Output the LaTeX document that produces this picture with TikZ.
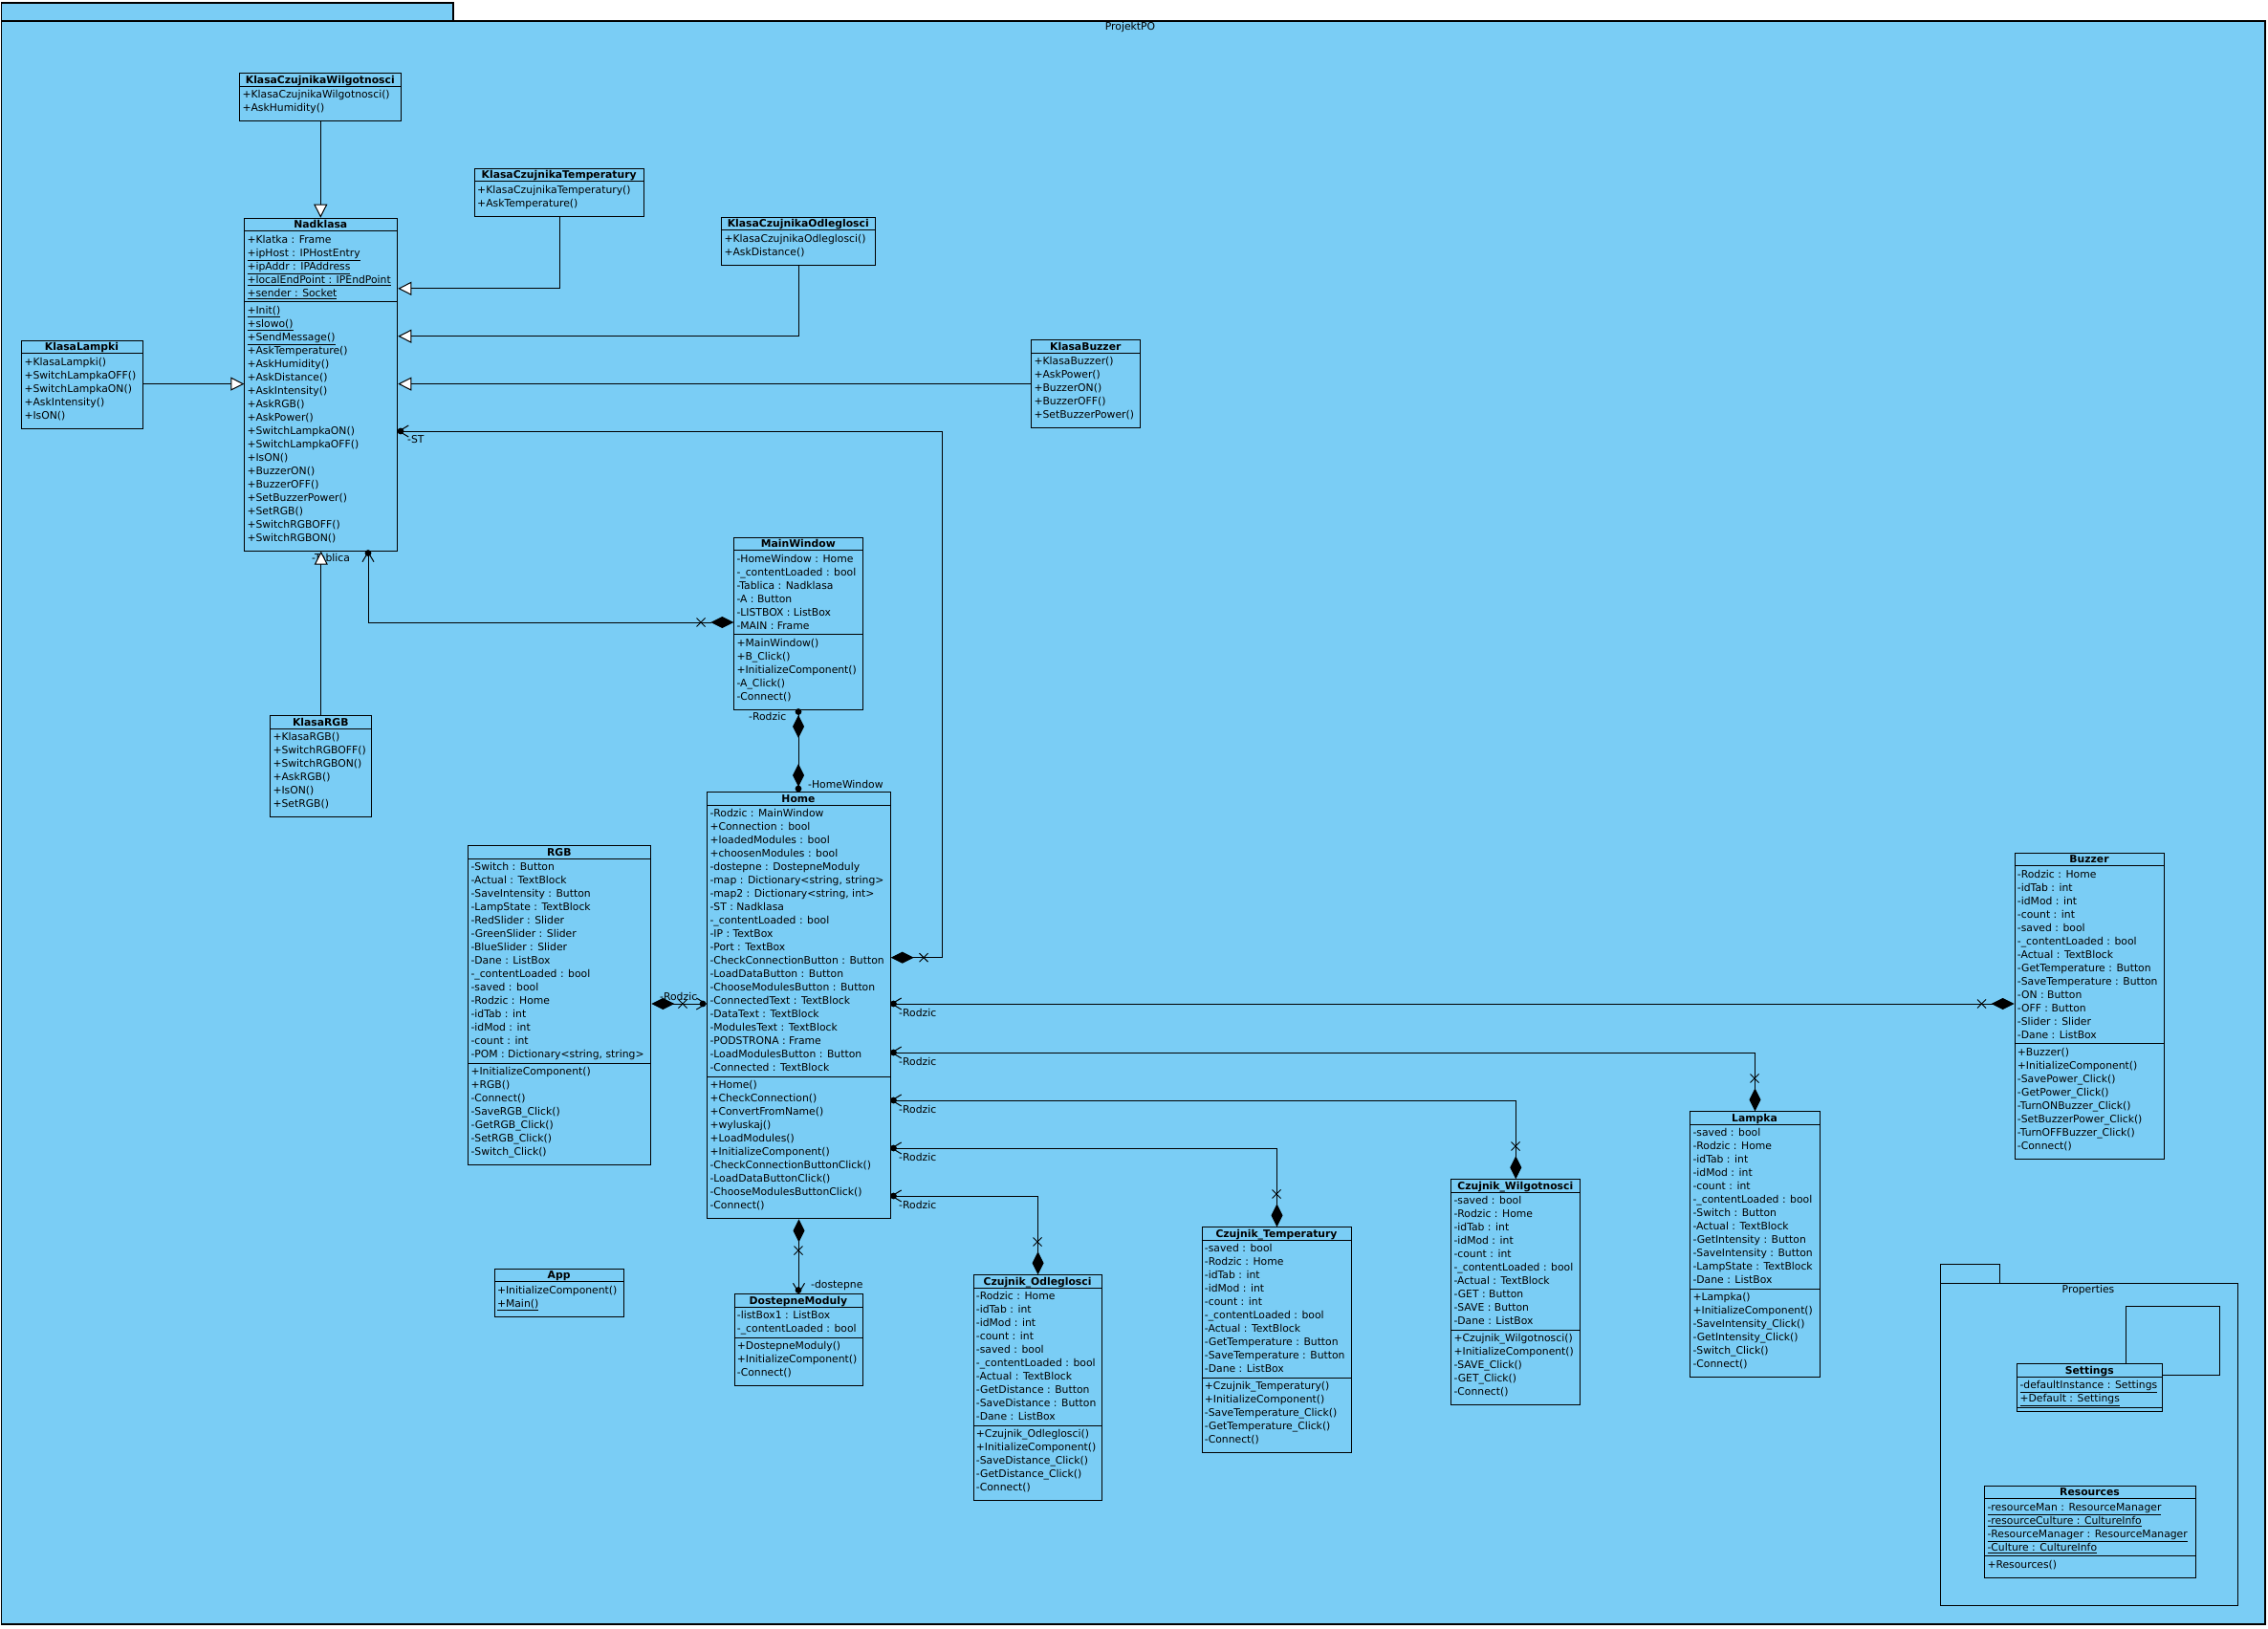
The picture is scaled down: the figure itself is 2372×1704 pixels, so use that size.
\documentclass[tikz,border=0pt]{standalone}
\usepackage{fontspec}
\setmainfont{DejaVu Sans}
\usetikzlibrary{arrows.meta}
\definecolor{pkgblue}{RGB}{122,205,245}
\newcommand\rowfont{\fontsize{10.8}{14}\selectfont}
\newcommand\ttlfont{\fontsize{10.8}{14}\selectfont\bfseries}
\tikzset{
  umlline/.style={line width=1pt, draw=black},
  classbox/.style={draw=black, line width=1pt, inner sep=0pt, rectangle},
  rowtext/.style={anchor=north west, inner sep=0pt, align=left, font=\rowfont},
  titletext/.style={anchor=base, inner sep=0pt, font=\ttlfont},
  lbl/.style={inner sep=0pt, font=\rowfont, anchor=west},
  gen/.style={-{Triangle[length=14pt,width=14pt,fill=white]}},
  compnav/.style={{Diamond[length=24pt,width=12pt]}-{Straight Barb[length=10pt,width=12pt]}},
  navcomp/.style={{Straight Barb[length=10pt,width=12pt]}-{Diamond[length=24pt,width=12pt]}},
}
% name, left, top, width, title, nAttr, nOps, attrs, ops
\newcommand\umlclass[9]{%
  \pgfmathsetmacro\ya{#3+14}%
  \pgfmathsetmacro\yb{\ya+ifthenelse(#6>0,#6*14+4,0)}%
  \pgfmathsetmacro\yc{\yb+ifthenelse(#7>0,#7*14+8,4)}%
  \pgfmathsetmacro\hh{\yc-#3}%
  \node[classbox, minimum width=#4pt, minimum height=\hh pt, anchor=north west] (#1) at (#2,#3) {};
  \draw[umlline] (#2,\ya) -- ++(#4,0);
  \draw[umlline] (#2,\yb) -- ++(#4,0);
  \node[titletext] (#1-t) at (#2+#4/2,#3+11) {#5};
  \node[rowtext] (#1-a) at (#2+3,\ya+2.5) {\strut#8};
  \node[rowtext] (#1-o) at (#2+3,\yb+2.5) {\strut#9};
}
\newcommand\xmark[2]{\draw[umlline] (#1-4.5,#2-4.5) -- (#1+4.5,#2+4.5) (#1-4.5,#2+4.5) -- (#1+4.5,#2-4.5);}
\newcommand\owndot[2]{\fill (#1,#2) circle[radius=3.4pt];}
\begin{document}
\begin{tikzpicture}[x=1pt,y=-1pt]
\useasboundingbox (0,0) rectangle (2372,1704);
\fill[white] (0,0) rectangle (2372,1704);
\draw[fill=pkgblue, line width=1.3pt] (1.5,3) rectangle (474,22);
\draw[fill=pkgblue, line width=1.3pt] (1.5,22) rectangle (2369,1699);
\node[font=\rowfont, inner sep=0pt] (projlabel) at (1182,29) {ProjektPO};

% Properties package
\draw[line width=1pt] (2029.3,1322.3) rectangle (2091,1342.3);
\draw[line width=1pt] (2029.3,1342.3) rectangle (2340.7,1679.3);
\node[font=\rowfont, inner sep=0pt] (proplabel) at (2184,1349.3) {Properties};

% ---------- classes ----------
\umlclass{kw}{250.3}{76.5}{169}{KlasaCzujnikaWilgotnosci}{0}{2}{}{+KlasaCzujnikaWilgotnosci()\\+AskHumidity()}
\umlclass{kt}{496}{176}{177.3}{KlasaCzujnikaTemperatury}{0}{2}{}{+KlasaCzujnikaTemperatury()\\+AskTemperature()}
\umlclass{ko}{754.3}{226.7}{161}{KlasaCzujnikaOdleglosci}{0}{2}{}{+KlasaCzujnikaOdleglosci()\\+AskDistance()}
\umlclass{nad}{255.3}{227.7}{160}{Nadklasa}{5}{18}{+Klatka : Frame\\\underline{+ipHost : IPHostEntry}\\\underline{+ipAddr : IPAddress}\\\underline{+localEndPoint : IPEndPoint}\\\underline{+sender : Socket}}{\underline{+Init()}\\\underline{+slowo()}\\\underline{+SendMessage()}\\+AskTemperature()\\+AskHumidity()\\+AskDistance()\\+AskIntensity()\\+AskRGB()\\+AskPower()\\+SwitchLampkaON()\\+SwitchLampkaOFF()\\+IsON()\\+BuzzerON()\\+BuzzerOFF()\\+SetBuzzerPower()\\+SetRGB()\\+SwitchRGBOFF()\\+SwitchRGBON()}
\umlclass{kl}{22.3}{355.5}{126.4}{KlasaLampki}{0}{5}{}{+KlasaLampki()\\+SwitchLampkaOFF()\\+SwitchLampkaON()\\+AskIntensity()\\+IsON()}
\umlclass{kb}{1078.3}{355}{114}{KlasaBuzzer}{0}{5}{}{+KlasaBuzzer()\\+AskPower()\\+BuzzerON()\\+BuzzerOFF()\\+SetBuzzerPower()}
\umlclass{mw}{767.3}{561.7}{135}{MainWindow}{6}{5}{-HomeWindow : Home\\-\_contentLoaded : bool\\-Tablica : Nadklasa\\-A : Button\\-LISTBOX : ListBox\\-MAIN : Frame}{+MainWindow()\\+B\_Click()\\+InitializeComponent()\\-A\_Click()\\-Connect()}
\umlclass{krgb}{282.3}{748.3}{106}{KlasaRGB}{0}{6}{}{+KlasaRGB()\\+SwitchRGBOFF()\\+SwitchRGBON()\\+AskRGB()\\+IsON()\\+SetRGB()}
\umlclass{rgb}{489.3}{884.3}{191}{RGB}{15}{7}{-Switch : Button\\-Actual : TextBlock\\-SaveIntensity : Button\\-LampState : TextBlock\\-RedSlider : Slider\\-GreenSlider : Slider\\-BlueSlider : Slider\\-Dane : ListBox\\-\_contentLoaded : bool\\-saved : bool\\-Rodzic : Home\\-idTab : int\\-idMod : int\\-count : int\\-POM : Dictionary<string, string>}{+InitializeComponent()\\+RGB()\\-Connect()\\-SaveRGB\_Click()\\-GetRGB\_Click()\\-SetRGB\_Click()\\-Switch\_Click()}
\umlclass{home}{739.3}{828.3}{191.4}{Home}{20}{10}{-Rodzic : MainWindow\\+Connection : bool\\+loadedModules : bool\\+choosenModules : bool\\-dostepne : DostepneModuly\\-map : Dictionary<string, string>\\-map2 : Dictionary<string, int>\\-ST : Nadklasa\\-\_contentLoaded : bool\\-IP : TextBox\\-Port : TextBox\\-CheckConnectionButton : Button\\-LoadDataButton : Button\\-ChooseModulesButton : Button\\-ConnectedText : TextBlock\\-DataText : TextBlock\\-ModulesText : TextBlock\\-PODSTRONA : Frame\\-LoadModulesButton : Button\\-Connected : TextBlock}{+Home()\\+CheckConnection()\\+ConvertFromName()\\+wyluskaj()\\+LoadModules()\\+InitializeComponent()\\-CheckConnectionButtonClick()\\-LoadDataButtonClick()\\-ChooseModulesButtonClick()\\-Connect()}
\umlclass{app}{516.8}{1326.7}{135.6}{App}{0}{2}{}{+InitializeComponent()\\\underline{+Main()}}
\umlclass{dm}{767.7}{1353.3}{134.3}{DostepneModuly}{2}{3}{-listBox1 : ListBox\\-\_contentLoaded : bool}{+DostepneModuly()\\+InitializeComponent()\\-Connect()}
\umlclass{co}{1017.7}{1333.3}{134.7}{Czujnik\_Odleglosci}{10}{5}{-Rodzic : Home\\-idTab : int\\-idMod : int\\-count : int\\-saved : bool\\-\_contentLoaded : bool\\-Actual : TextBlock\\-GetDistance : Button\\-SaveDistance : Button\\-Dane : ListBox}{+Czujnik\_Odleglosci()\\+InitializeComponent()\\-SaveDistance\_Click()\\-GetDistance\_Click()\\-Connect()}
\umlclass{ct}{1256.7}{1283.3}{156.6}{Czujnik\_Temperatury}{10}{5}{-saved : bool\\-Rodzic : Home\\-idTab : int\\-idMod : int\\-count : int\\-\_contentLoaded : bool\\-Actual : TextBlock\\-GetTemperature : Button\\-SaveTemperature : Button\\-Dane : ListBox}{+Czujnik\_Temperatury()\\+InitializeComponent()\\-SaveTemperature\_Click()\\-GetTemperature\_Click()\\-Connect()}
\umlclass{cw}{1517.3}{1233.3}{135}{Czujnik\_Wilgotnosci}{10}{5}{-saved : bool\\-Rodzic : Home\\-idTab : int\\-idMod : int\\-count : int\\-\_contentLoaded : bool\\-Actual : TextBlock\\-GET : Button\\-SAVE : Button\\-Dane : ListBox}{+Czujnik\_Wilgotnosci()\\+InitializeComponent()\\-SAVE\_Click()\\-GET\_Click()\\-Connect()}
\umlclass{lam}{1767.3}{1162.3}{135.4}{Lampka}{12}{6}{-saved : bool\\-Rodzic : Home\\-idTab : int\\-idMod : int\\-count : int\\-\_contentLoaded : bool\\-Switch : Button\\-Actual : TextBlock\\-GetIntensity : Button\\-SaveIntensity : Button\\-LampState : TextBlock\\-Dane : ListBox}{+Lampka()\\+InitializeComponent()\\-SaveIntensity\_Click()\\-GetIntensity\_Click()\\-Switch\_Click()\\-Connect()}
\umlclass{buz}{2106.7}{891.7}{156.6}{Buzzer}{13}{8}{-Rodzic : Home\\-idTab : int\\-idMod : int\\-count : int\\-saved : bool\\-\_contentLoaded : bool\\-Actual : TextBlock\\-GetTemperature : Button\\-SaveTemperature : Button\\-ON : Button\\-OFF : Button\\-Slider : Slider\\-Dane : ListBox}{+Buzzer()\\+InitializeComponent()\\-SavePower\_Click()\\-GetPower\_Click()\\-TurnONBuzzer\_Click()\\-SetBuzzerPower\_Click()\\-TurnOFFBuzzer\_Click()\\-Connect()}
\umlclass{set}{2109.3}{1426.3}{152}{Settings}{2}{0}{\underline{-defaultInstance : Settings}\\\underline{+Default : Settings}}{}
\umlclass{res}{2075.3}{1553.7}{220.4}{Resources}{4}{1}{\underline{-resourceMan : ResourceManager}\\\underline{-resourceCulture : CultureInfo}\\\underline{-ResourceManager : ResourceManager}\\\underline{-Culture : CultureInfo}}{+Resources()}

% ---------- labels ----------
\node[lbl] (lST) at (426,459.5) {-ST};
\node[lbl] (lTab) at (326,583.5) {-Tablica};
\node[lbl] (lRodzicMW) at (783,749.5) {-Rodzic};
\node[lbl] (lHW) at (845,820) {-HomeWindow};
\node[lbl] (ldost) at (848,1345) {-dostepne};
\node[lbl] (lRodzicRGB) at (690,1042) {-Rodzic};
\node[lbl] (lR1) at (940,1059) {-Rodzic};
\node[lbl] (lR2) at (940,1110) {-Rodzic};
\node[lbl] (lR3) at (940,1160) {-Rodzic};
\node[lbl] (lR4) at (940,1210) {-Rodzic};
\node[lbl] (lR5) at (940,1260) {-Rodzic};

% ---------- generalizations ----------
\draw[umlline,gen] (kw.south) -- (kw.south |- nad.north);
\draw[umlline,gen] (kt.south) |- (nad.east |- 0,301.8);
\draw[umlline,gen] (ko.south) |- (nad.east |- 0,351.7);
\draw[umlline,gen] (kl.east |- 0,401.6) -- (nad.west |- 0,401.6);
\draw[umlline,gen] (kb.west |- 0,401.6) -- (nad.east |- 0,401.6);
\draw[umlline,gen] (krgb.north) -- (krgb.north |- nad.south);

% ---------- associations ----------
% Home.ST -> Nadklasa
\coordinate (stbend) at (985,451);
\draw[umlline,compnav] (home.east |- 0,1001.7) -| (stbend) -- (nad.east |- stbend);
\owndot{419}{451}
\xmark{966}{1001.7}
% MainWindow.Tablica -> Nadklasa
\draw[umlline,compnav] (mw.west |- 0,651) -| (385,0 |- nad.south);
\owndot{385}{578.5}
\xmark{733}{651}
% MainWindow -- Home
\draw[umlline] (mw.south) -- (mw.south |- home.north);
\fill (835,748) -- (841,760) -- (835,772) -- (829,760) -- cycle;
\fill (835,799) -- (841,811) -- (835,823) -- (829,811) -- cycle;
\owndot{835}{744.5}
\owndot{835}{825}
% Home.dostepne -> DostepneModuly
\draw[umlline,compnav] (home.south) -- (home.south |- dm.north);
\owndot{835}{1349.5}
\xmark{835}{1308}
% RGB -> Home
\draw[umlline,compnav] (rgb.east |- 0,1050) -- (home.west |- 0,1050);
\owndot{735}{1050}
\xmark{714}{1050}
% Home <- sensors
\draw[umlline,navcomp] (home.east |- 0,1050) -- (buz.west |- 0,1050);
\owndot{934.5}{1050}
\xmark{2072.5}{1050}
\draw[umlline,navcomp] (home.east |- 0,1101) -| (lam.north);
\owndot{934.5}{1101}
\xmark{1835}{1128}
\draw[umlline,navcomp] (home.east |- 0,1151) -| (cw.north);
\owndot{934.5}{1151}
\xmark{1585}{1199}
\draw[umlline,navcomp] (home.east |- 0,1201) -| (ct.north);
\owndot{934.5}{1201}
\xmark{1335}{1249}
\draw[umlline,navcomp] (home.east |- 0,1251) -| (co.north);
\owndot{934.5}{1251}
\xmark{1085}{1299}
% Settings self association
\coordinate (sl1) at (2321.7,1366.7);
\draw[umlline] (2223.3,0 |- set.north) |- (sl1) |- (set.east |- 0,1438.3);
\end{tikzpicture}
\end{document}
